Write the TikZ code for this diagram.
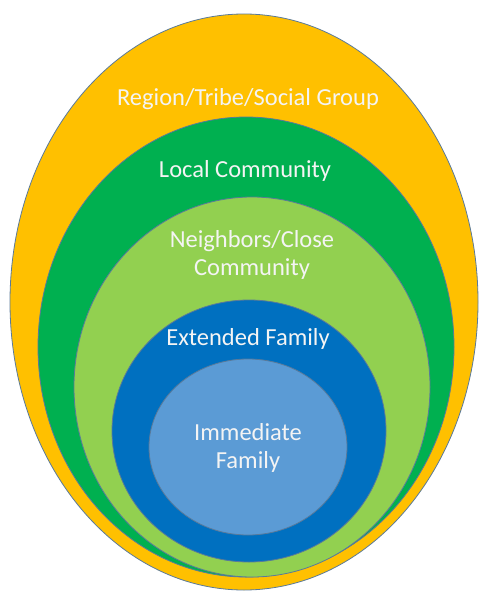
\documentclass[tikz,border=0pt]{standalone}
\usepackage{fontspec}
\setmainfont{Carlito}
\usetikzlibrary{shapes.geometric}
\definecolor{cYel}{HTML}{FFC000}
\definecolor{cGrn}{HTML}{00B050}
\definecolor{cLGrn}{HTML}{92D050}
\definecolor{cBlu}{HTML}{0070C0}
\definecolor{cLBlu}{HTML}{5B9BD5}
\definecolor{cEdge}{HTML}{5A7A9A}
\definecolor{cTxt}{HTML}{F4F4F4}
\begin{document}
\begin{tikzpicture}[x=1pt,y=-1pt,
  ring/.style={ellipse,draw=cEdge,line width=0.8pt,inner sep=0pt},
  lbl/.style={text=cTxt,font=\fontsize{24.5}{28}\selectfont,align=center,inner sep=0pt}]
\useasboundingbox (0,0) rectangle (485,591);
\node[ring,fill=cYel,minimum width=468pt,minimum height=576pt] (region) at (244,302) {};
\node[ring,fill=cGrn,minimum width=416pt,minimum height=460pt] (local) at (246,347) {};
\node[ring,fill=cLGrn,minimum width=356pt,minimum height=380pt] (neigh) at (252,387) {};
\node[ring,fill=cBlu,minimum width=274pt,minimum height=262pt] (ext) at (249,431) {};
\node[ring,fill=cLBlu,minimum width=198pt,minimum height=176pt] (imm) at (248,447) {};
\node[lbl] (tRegion) at (248,99) {Region/Tribe/Social Group};
\node[lbl] (tLocal) at (245,171) {Local Community};
\node[lbl] (tNeigh) at (252,255) {Neighbors/Close\\Community};
\node[lbl] (tExt) at (248,339) {Extended Family};
\node[lbl] (tImm) at (248,448) {Immediate\\Family};
\end{tikzpicture}
\end{document}
